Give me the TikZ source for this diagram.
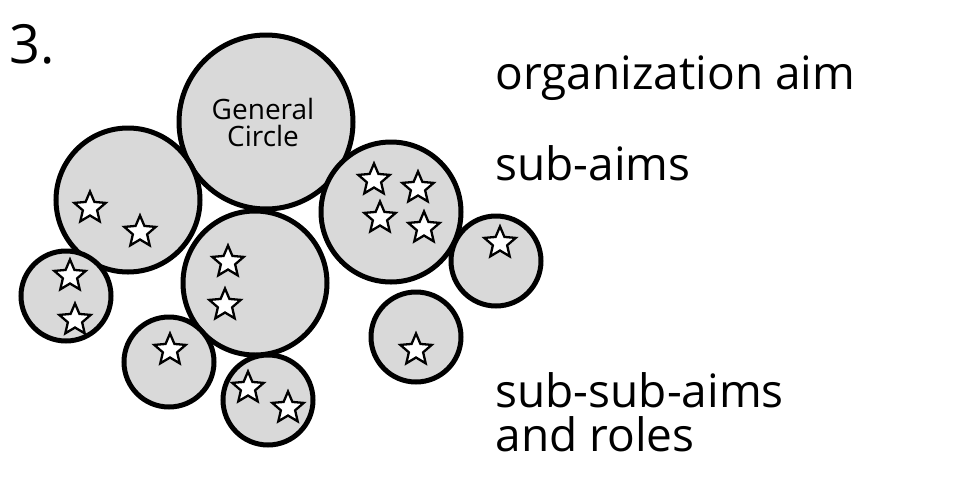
\documentclass[tikz,border=0pt]{standalone}
\usepackage{fontspec}
\setmainfont[Ligatures=NoCommon]{Open Sans}
\usetikzlibrary{shapes.geometric}
\begin{document}
\begin{tikzpicture}[x=1pt,y=-1pt,
  circ/.style={circle,draw=black,line width=5pt,fill=gray!30,inner sep=0pt},
  st/.style={star,star points=5,star point ratio=2.2,draw=black,line width=2.3pt,fill=white,minimum size=33pt,inner sep=0pt},
  lbl/.style={anchor=west,font=\fontsize{46}{44}\selectfont,align=left}]
\useasboundingbox (0,0) rectangle (980,496);
\node[circ,minimum size=174pt] (g) at (266,122) {};
\node[circ,minimum size=144pt] (a) at (128,200) {};
\node[circ,minimum size=144pt] (m) at (255,283) {};
\node[circ,minimum size=140pt] (r) at (391,212) {};
\node[circ,minimum size=90pt] (s1) at (66,296) {};
\node[circ,minimum size=90pt] (s2) at (169,362) {};
\node[circ,minimum size=90pt] (s3) at (268,400) {};
\node[circ,minimum size=90pt] (s4) at (496,261) {};
\node[circ,minimum size=90pt] (s5) at (416,337) {};
\node[font=\fontsize{28}{27}\selectfont,align=center] (gt) at (263,122) {General\\Circle};
\foreach \n/\x/\y in {a1/90/208,a2/140/232,m1/228/262,m2/225/305,r1/374/180,r2/418/188,r3/380/218,r4/424/228,p1/70/276,p2/75/320,q1/170/350,t1/248/388,t2/288/408,u1/500/243,v1/416/350}
  \node[st] (\n) at (\x,\y) {};
\node[anchor=west,font=\fontsize{54}{54}\selectfont] (num) at (6,44) {3.};
\node[lbl] (o) at (492,78) {organization aim};
\node[lbl] (sa) at (492,163) {sub-aims};
\node[lbl] (ssa) at (492,412) {sub-sub-aims\\and roles};
\end{tikzpicture}
\end{document}
